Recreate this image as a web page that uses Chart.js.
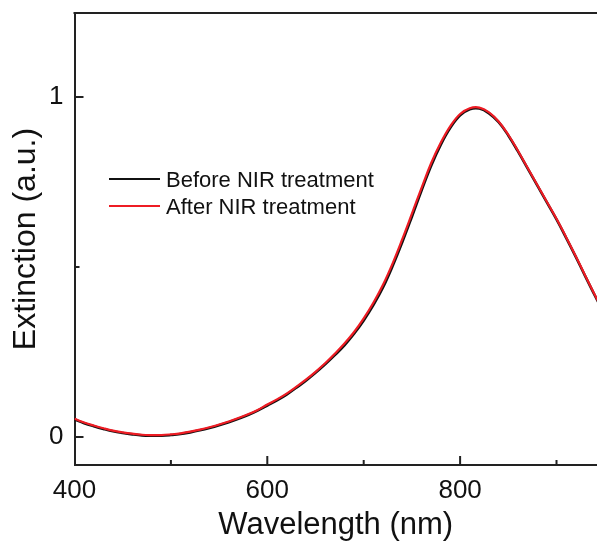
<!DOCTYPE html>
<html>
<head>
<meta charset="utf-8">
<script src="https://cdn.jsdelivr.net/npm/chart.js@4"></script>
<style>
  body { margin: 0; background: #fff; }
  #wrap { width: 597px; height: 544px; position: relative; }
</style>
</head>
<body>
<div id="wrap"><canvas id="extChart"></canvas></div>
<script>
  // wavelength (nm)
  const wavelength = [400,410,420,430,440,450,460,470,480,490,500,510,520,530,540,550,560,570,580,590,
    600,610,620,630,640,650,660,670,680,690,700,710,720,730,740,750,760,770,780,790,
    800,810,820,830,840,850,860,870,880,890,900,910,920,930,940,950];

  const beforeNIR = [0.052,0.041,0.032,0.024,0.017,0.012,0.008,0.005,0.004,0.004,
    0.006,0.009,0.014,0.020,0.027,0.035,0.044,0.054,0.065,0.078,
    0.093,0.108,0.125,0.145,0.166,0.189,0.214,0.241,0.270,0.304,
    0.343,0.388,0.440,0.503,0.573,0.648,0.725,0.798,0.860,0.910,
    0.946,0.964,0.966,0.952,0.926,0.887,0.840,0.790,0.740,0.690,
    0.640,0.586,0.530,0.472,0.415,0.360];

  const afterNIR = [0.054,0.043,0.034,0.026,0.019,0.014,0.010,0.007,0.006,0.006,
    0.008,0.011,0.016,0.022,0.029,0.037,0.046,0.056,0.067,0.080,
    0.096,0.111,0.128,0.148,0.169,0.192,0.217,0.245,0.275,0.309,
    0.349,0.395,0.448,0.511,0.582,0.657,0.733,0.806,0.866,0.915,
    0.950,0.967,0.969,0.955,0.928,0.889,0.842,0.792,0.742,0.692,
    0.642,0.588,0.532,0.474,0.417,0.362];

  const xMajor = [600, 800];
  const xMinor = [500, 700, 900];
  const yMajor = [0, 1];
  const yMinor = [0.5];

  const legendItems = [
    { label: 'Before NIR treatment', color: '#111111' },
    { label: 'After NIR treatment', color: '#ee1c24' }
  ];

  const toPoints = (ys) => ys.map((y, i) => ({ x: wavelength[i], y: y }));

  // inward ticks, top frame line and the legend
  const framePlugin = {
    id: 'frame',
    afterDraw(chart) {
      const ctx = chart.ctx;
      const a = chart.chartArea;
      const xs = chart.scales.x, ys = chart.scales.y;
      ctx.save();
      ctx.strokeStyle = '#222';
      ctx.lineWidth = 2;
      ctx.beginPath();
      ctx.moveTo(a.left - 1, a.top);
      ctx.lineTo(a.right, a.top);
      const tick = (vals, len, axis) => {
        vals.forEach(v => {
          if (axis === 'x') {
            const px = xs.getPixelForValue(v);
            ctx.moveTo(px, a.bottom);
            ctx.lineTo(px, a.bottom - len);
          } else {
            const py = ys.getPixelForValue(v);
            ctx.moveTo(a.left, py);
            ctx.lineTo(a.left + len, py);
          }
        });
      };
      tick(xMajor, 9, 'x');
      tick(xMinor, 5, 'x');
      tick(yMajor, 9, 'y');
      tick(yMinor, 5, 'y');
      ctx.stroke();

      ctx.font = '22px "Liberation Sans", Arial, sans-serif';
      ctx.textBaseline = 'alphabetic';
      legendItems.forEach((it, i) => {
        const y = 179 + i * 27;
        ctx.strokeStyle = it.color;
        ctx.beginPath();
        ctx.moveTo(109, y);
        ctx.lineTo(160, y);
        ctx.stroke();
        ctx.fillStyle = '#111';
        ctx.fillText(it.label, 166, y + 8);
      });
      ctx.restore();
    }
  };

  const ctx = document.getElementById('extChart').getContext('2d');
  const extChart = new Chart(ctx, {
    type: 'line',
    data: {
      datasets: [{
        label: 'Before NIR treatment',
        data: toPoints(beforeNIR),
        borderColor: '#111111',
        borderWidth: 2.6,
        pointRadius: 0,
        tension: 0.4,
        order: 2
      },
      {
        label: 'After NIR treatment',
        data: toPoints(afterNIR),
        borderColor: '#ee1c24',
        borderWidth: 2.2,
        pointRadius: 0,
        tension: 0.4,
        order: 1
      }]
    },
    options: {
      responsive: true,
      maintainAspectRatio: false,
      animation: false,
      layout: { padding: { top: 13, right: 0, left: 0, bottom: 0 } },
      plugins: { legend: { display: false }, tooltip: { enabled: false } },
      scales: {
        x: {
          type: 'linear',
          min: 400,
          max: 942,
          afterBuildTicks: (s) => { s.ticks = [400,500,600,700,800,900].map(v => ({ value: v })); },
          afterFit: (s) => { s.height = 79; s.paddingLeft = 0; s.paddingRight = 0; },
          grid: { display: false, drawTicks: false },
          border: { display: true, color: '#222', width: 2 },
          ticks: {
            padding: 10,
            maxRotation: 0,
            color: '#111',
            font: { family: '"Liberation Sans", Arial, sans-serif', size: 26 },
            callback: (v) => (v % 200 === 0 ? String(v) : '')
          },
          title: {
            display: true,
            text: 'Wavelength (nm)',
            color: '#111',
            padding: { top: 0, bottom: 0 },
            font: { family: '"Liberation Sans", Arial, sans-serif', size: 31 }
          }
        },
        y: {
          min: -0.082,
          max: 1.247,
          afterBuildTicks: (s) => { s.ticks = [0, 0.5, 1].map(v => ({ value: v })); },
          afterFit: (s) => { s.width = 74.5; s.paddingTop = 0; s.paddingBottom = 0; },
          grid: { display: false, drawTicks: false },
          border: { display: true, color: '#222', width: 2 },
          ticks: {
            padding: 11,
            color: '#111',
            font: { family: '"Liberation Sans", Arial, sans-serif', size: 26 },
            callback: (v) => (v === 0 || v === 1 ? String(v) : '')
          },
          title: {
            display: true,
            text: 'Extinction (a.u.)',
            color: '#111',
            padding: { top: 7, bottom: 0 },
            font: { family: '"Liberation Sans", Arial, sans-serif', size: 32 }
          }
        }
      }
    },
    plugins: [framePlugin]
  });
</script>
</body>
</html>
